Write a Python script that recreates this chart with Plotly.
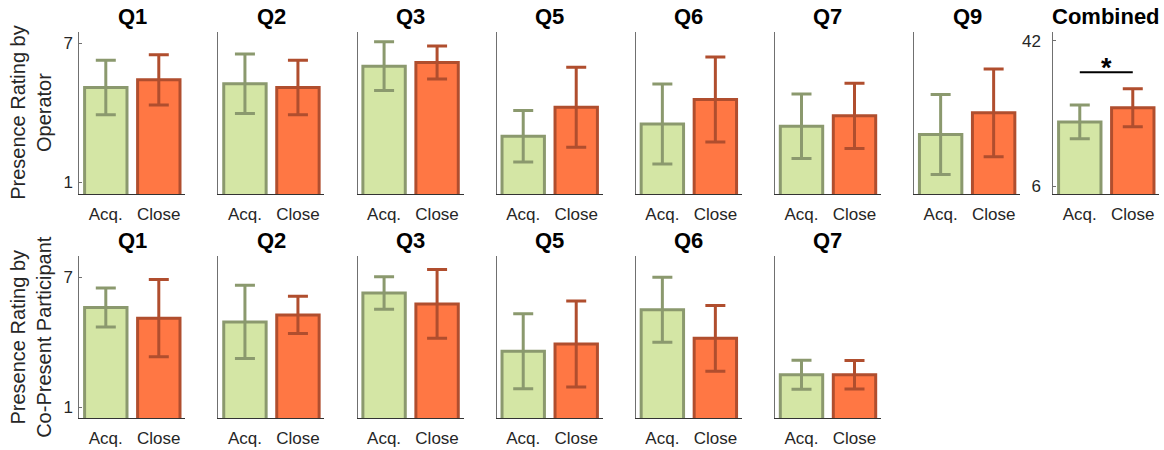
import plotly.graph_objects as go

# ---------------- data ----------------
categories = ["Acq.", "Close"]

top_titles = ["Q1", "Q2", "Q3", "Q5", "Q6", "Q7", "Q9"]
top_acq = [5.09, 5.25, 6.01, 2.99, 3.52, 3.42, 3.07]
top_acq_err = [1.17, 1.28, 1.05, 1.11, 1.72, 1.39, 1.72]
top_close = [5.42, 5.09, 6.17, 4.24, 4.57, 3.87, 4.00]
top_close_err = [1.08, 1.17, 0.71, 1.72, 1.83, 1.40, 1.89]

combined_title = "Combined"
combined_acq = [21.9]
combined_acq_err = [4.2]
combined_close = [25.4]
combined_close_err = [4.7]
sig_level = 34.2
sig_star = "*"

bottom_titles = ["Q1", "Q2", "Q3", "Q5", "Q6", "Q7"]
bottom_acq = [5.60, 4.94, 6.27, 3.58, 5.50, 2.50]
bottom_acq_err = [0.90, 1.69, 0.75, 1.73, 1.50, 0.67]
bottom_close = [5.11, 5.26, 5.77, 3.92, 4.18, 2.50]
bottom_close_err = [1.78, 0.86, 1.59, 1.98, 1.52, 0.66]

item_ticks = [1, 7]
combined_ticks = [6, 42]
row_labels = ["Presence Rating by<br>Operator",
              "Presence Rating by<br>Co-Present Participant"]

# ---------------- style ----------------
W, H = 1164, 450
ACQ_FILL, ACQ_EDGE = "#d4e6a5", "#8b996e"
CLO_FILL, CLO_EDGE = "#ff7744", "#b04e2e"
FONT = "Liberation Sans, Arial, Helvetica, sans-serif"
TXT = "#262626"

col_left = [79.3 + 139.14 * i for i in range(8)]
col_w = 106.0
rows = {0: (31.7, 195.0), 1: (256.7, 420.0)}  # top, bottom in px


def px_x(x):
    return x / W


def px_y(y):
    return 1 - y / H


fig = go.Figure()
layout = dict(
    width=W, height=H,
    margin=dict(l=0, r=0, t=0, b=0),
    paper_bgcolor="white", plot_bgcolor="white",
    showlegend=False, barmode="overlay",
    font=dict(family=FONT, color=TXT, size=17),
    annotations=[], shapes=[],
)

panels = []
for i, t in enumerate(top_titles):
    panels.append(dict(row=0, col=i, title=t, vals=[top_acq[i], top_close[i]],
                       errs=[top_acq_err[i], top_close_err[i]],
                       yr=[0.5, 7.5], ticks=item_ticks if i == 0 else None))
panels.append(dict(row=0, col=7, title=combined_title,
                   vals=[combined_acq[0], combined_close[0]],
                   errs=[combined_acq_err[0], combined_close_err[0]],
                   yr=[4.0, 44.3], ticks=combined_ticks, sig=True))
for i, t in enumerate(bottom_titles):
    panels.append(dict(row=1, col=i, title=t, vals=[bottom_acq[i], bottom_close[i]],
                       errs=[bottom_acq_err[i], bottom_close_err[i]],
                       yr=[0.5, 8.0], ticks=item_ticks if i == 0 else None))

fills = [ACQ_FILL, CLO_FILL]
edges = [ACQ_EDGE, CLO_EDGE]

for n, p in enumerate(panels, start=1):
    xa = "x" if n == 1 else f"x{n}"
    ya = "y" if n == 1 else f"y{n}"
    top, bot = rows[p["row"]]
    left = col_left[p["col"]]
    for j in range(2):
        fig.add_trace(go.Bar(
            x=[categories[j]], y=[p["vals"][j]], base=0, width=0.8,
            xaxis=xa, yaxis=ya,
            marker=dict(color=fills[j], line=dict(color=edges[j], width=3)),
            error_y=dict(type="data", array=[p["errs"][j]], color=edges[j],
                         thickness=3, width=10),
        ))
    xkey = "xaxis" if n == 1 else f"xaxis{n}"
    ykey = "yaxis" if n == 1 else f"yaxis{n}"
    layout[xkey] = dict(
        domain=[px_x(left), px_x(left + col_w)], anchor=ya,
        type="category", categoryorder="array", categoryarray=categories,
        range=[-0.5, 1.5], showline=True, linecolor="#333333", linewidth=1,
        showgrid=False, zeroline=False, ticks="",
        tickfont=dict(size=17, color=TXT, family=FONT), ticklabelstandoff=4,
    )
    ydict = dict(
        domain=[px_y(bot), px_y(top)], anchor=xa, range=p["yr"],
        showline=True, linecolor="#707070", linewidth=1,
        showgrid=False, zeroline=False,
    )
    if p["ticks"]:
        ydict.update(tickmode="array", tickvals=p["ticks"],
                     ticktext=[str(v) for v in p["ticks"]],
                     ticks="inside", ticklen=3, tickcolor="#707070",
                     tickfont=dict(size=17, color=TXT, family=FONT),
                     ticklabelstandoff=2 if p["col"] == 0 else 8)
    else:
        ydict.update(showticklabels=False, ticks="")
    layout[ykey] = ydict

    # panel title
    layout["annotations"].append(dict(
        text=f"<b>{p['title']}</b>", xref="paper", yref="paper",
        x=px_x(left + col_w / 2), y=px_y(top - 15), xanchor="center", yanchor="middle",
        showarrow=False, font=dict(size=22, color="black", family=FONT),
    ))

    if p.get("sig"):
        layout["shapes"].append(dict(
            type="line", xref=xa, yref=ya, x0=0, x1=1, y0=sig_level, y1=sig_level,
            line=dict(color="black", width=2),
        ))
        layout["annotations"].append(dict(
            text=f"<b>{sig_star}</b>", xref=xa, yref=ya, x=0.5, y=sig_level,
            xanchor="center", yanchor="bottom", showarrow=False, yshift=-13,
            font=dict(size=27, color="black", family=FONT),
        ))

# row labels
for r, lab in enumerate(row_labels):
    top, bot = rows[r]
    layout["annotations"].append(dict(
        text=lab, xref="paper", yref="paper", x=px_x(31), y=px_y((top + bot) / 2),
        xanchor="center", yanchor="middle", textangle=-90, showarrow=False,
        font=dict(size=20, color=TXT, family=FONT),
    ))

fig.update_layout(**layout)
fig.write_html("out.html", config={"displayModeBar": False},
               post_script="document.body.style.margin='0';document.body.style.padding='0';")
